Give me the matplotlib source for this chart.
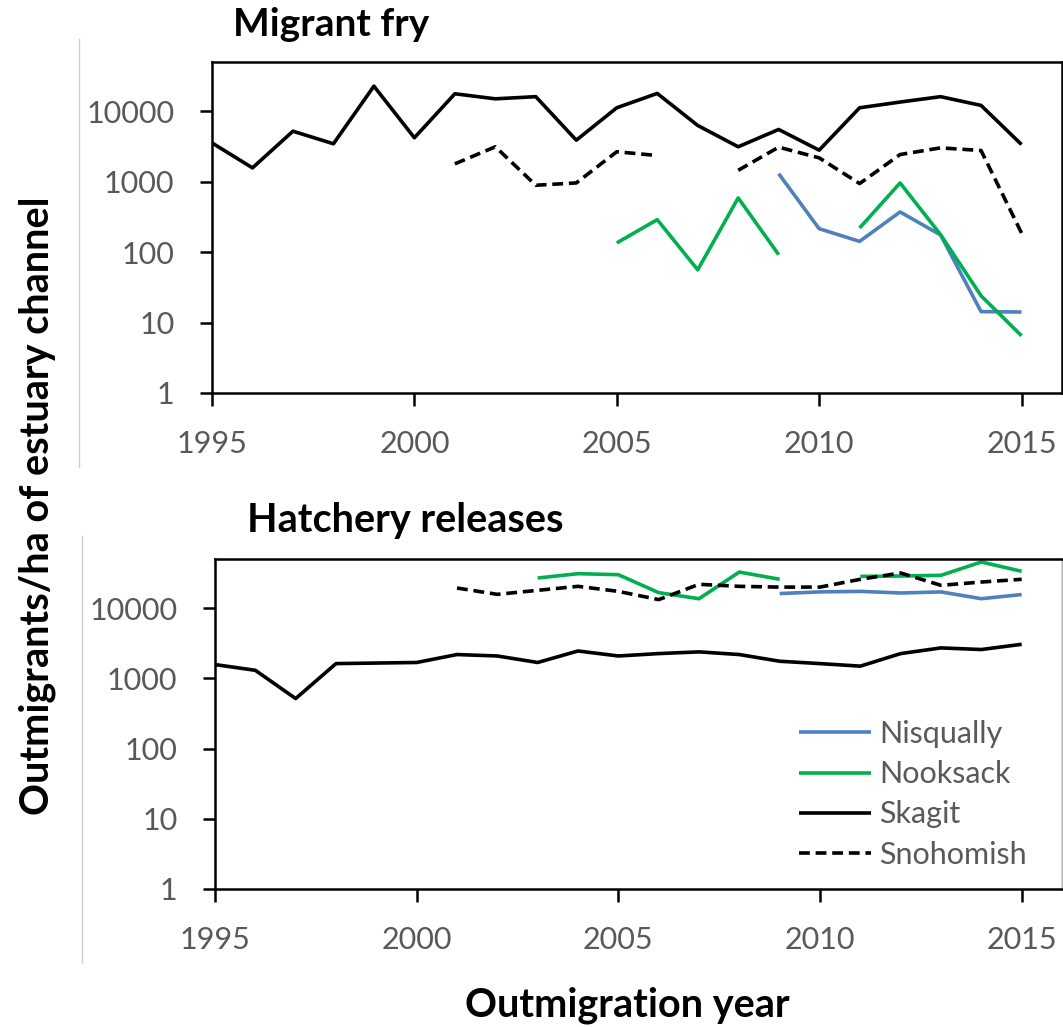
import numpy as np
import matplotlib
matplotlib.use("Agg")
import matplotlib.pyplot as plt
from matplotlib.lines import Line2D

plt.rcParams['font.family'] = ['Lato', 'DejaVu Sans']

nan = np.nan
years = list(range(1995, 2016))

# migrant fry, outmigrants per ha of estuary channel
nisqually_fry = [nan] * 14 + [1300, 215, 142, 372, 175, 14.3, 14.1]
nooksack_fry = [nan] * 10 + [135, 289, 56, 588, 92, nan, 220, 960, 177, 24, 6.5]
skagit_fry = [3550, 1570, 5210, 3450, 22700, 4200, 17700, 15000, 16100, 3880, 11200,
              17900, 6280, 3130, 5510, 2800, 11200, 13500, 16100, 12100, 3370]
snohomish_fry = [nan] * 6 + [1790, 3130, 890, 960, 2660, 2350, nan, 1450, 3090, 2180,
                             940, 2430, 3020, 2770, 187]

# hatchery releases
nisqually_hat = [nan] * 14 + [16100, 17000, 17300, 16400, 17000, 13600, 15600]
nooksack_hat = [nan] * 8 + [26800, 30900, 29900, 16600, 13600, 32600, 25700, nan,
                            28300, 28600, 29300, 45300, 33400]
skagit_hat = [1570, 1300, 515, 1620, 1650, 1680, 2180, 2080, 1680, 2450, 2080,
              2250, 2380, 2180, 1750, 1620, 1490, 2250, 2710, 2570, 3050]
snohomish_hat = [nan] * 6 + [19300, 15700, 17900, 20400, 17300, 13200, 21800, 20400,
                             19900, 19900, 25700, 31600, 21100, 23500, 25700]

rivers = ["Nisqually", "Nooksack", "Skagit", "Snohomish"]
colors = ["#4f81bd", "#00b050", "black", "black"]
styles = ["-", "-", "-", "--"]

y_ticks = [1, 10, 100, 1000, 10000]
x_ticks = [1995, 2000, 2005, 2010, 2015]
grey = "#595959"

W, H = 1063, 1027
fig = plt.figure(figsize=(W / 100, H / 100), dpi=100)


def px(x, y):
    return x / W, 1 - y / H


def setup(ax):
    ax.set_yscale("log")
    ax.set_xlim(1995, 2016)
    ax.set_ylim(1, 50000)
    ax.set_yticks(y_ticks)
    ax.set_yticklabels([str(v) for v in y_ticks])
    ax.yaxis.set_minor_locator(matplotlib.ticker.NullLocator())
    ax.set_xticks(x_ticks)
    ax.set_xticklabels([str(v) for v in x_ticks])
    for s in ax.spines.values():
        s.set_linewidth(1.8)
    ax.tick_params(axis="y", direction="out", length=9, width=1.8, pad=18,
                   labelsize=22, labelcolor=grey)
    ax.tick_params(axis="x", direction="out", length=9.5, width=1.8, pad=17,
                   labelsize=22, labelcolor=grey)


def draw(ax, series):
    handles = []
    for name, vals, c, ls in zip(rivers, series, colors, styles):
        ln, = ax.plot(years, vals, color=c, lw=2.6, label=name, linestyle=ls,
                      solid_capstyle="butt", dash_capstyle="butt")
        if ls == "--":
            ln.set_dashes((3, 1.6))
        handles.append(ln)
    return handles


ax1 = fig.add_axes([212 / W, 1 - 393 / H, 850 / W, 331 / H])
setup(ax1)
draw(ax1, [nisqually_fry, nooksack_fry, skagit_fry, snohomish_fry])

ax2 = fig.add_axes([215 / W, 1 - 889 / H, 847 / W, 330 / H])
setup(ax2)
handles = draw(ax2, [nisqually_hat, nooksack_hat, skagit_hat, snohomish_hat])
ax2.spines["right"].set_color("#bfbfbf")

leg = ax2.legend(handles=handles, loc="upper left", bbox_to_anchor=px(799, 720),
                 bbox_transform=fig.transFigure, frameon=False, fontsize=22,
                 handlelength=2.35, handletextpad=0.28, labelspacing=0.4,
                 borderpad=0, borderaxespad=0)
for t in leg.get_texts():
    t.set_color(grey)

fig.text(*px(233, 36), "Migrant fry", fontsize=28, fontweight="bold", va="baseline")
fig.text(*px(247, 532), "Hatchery releases", fontsize=28.5, fontweight="bold", va="baseline")
fig.text(*px(37, 506), "Outmigrants/ha of estuary channel", fontsize=28.5,
         fontweight="bold", rotation=90, ha="center", va="center")
fig.text(*px(627, 1005), "Outmigration year", fontsize=28.5, fontweight="bold",
         ha="center", va="center")

# faint chart-area borders on the left of each panel
fig.add_artist(Line2D([79 / W, 79 / W], [1 - 39 / H, 1 - 467 / H], color="#d0d0d0", lw=1))
fig.add_artist(Line2D([82 / W, 82 / W], [1 - 536 / H, 1 - 963 / H], color="#d0d0d0", lw=1))

fig.savefig("out.png", dpi=100)
